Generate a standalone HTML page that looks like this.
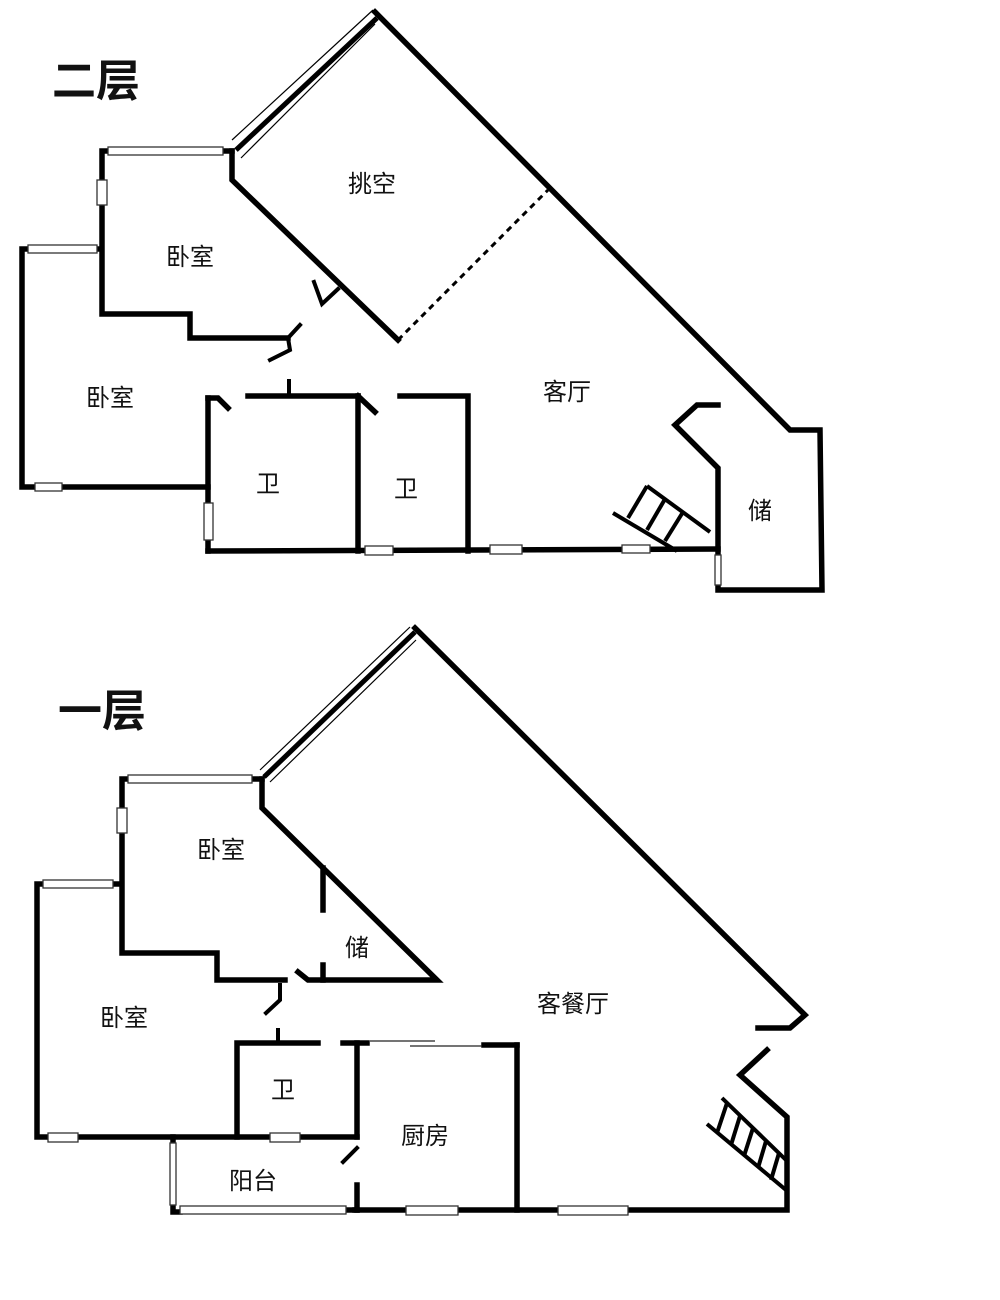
<!DOCTYPE html>
<html><head><meta charset="utf-8"><style>
html,body{margin:0;padding:0;background:#fff;}
svg{display:block;}
text{font-family:"Liberation Sans","Noto Sans CJK SC",sans-serif;fill:#111;}
</style></head><body>
<svg width="1000" height="1300" viewBox="0 0 1000 1300" xmlns="http://www.w3.org/2000/svg">
<g fill="none" stroke="#000" stroke-width="5.5" stroke-linecap="square" stroke-linejoin="miter">
<!-- ===== Upper floor ===== -->
<polyline points="375,12 790,430 820,430 822,590 718,590 718,468 675,425 697,405 718,405"/>
<polyline points="232,151 102,151 102,314 190,314 190,338 288,338"/>
<polyline points="232,151 232,180 398,340"/>
<polyline points="100,249 22,249 22,487 208,487"/>
<polyline points="208,398 218,398 228,408"/>
<line x1="248" y1="396" x2="358" y2="396"/>
<line x1="358" y1="396" x2="375" y2="412"/>
<polyline points="400,396 468,396 468,551"/>
<line x1="208" y1="398" x2="208" y2="551"/>
<line x1="358" y1="396" x2="358" y2="551"/>
<line x1="208" y1="551" x2="718" y2="549"/>
<polyline points="300,325 288,338 290,350 270,360" stroke-width="4"/>
<line x1="289" y1="381" x2="289" y2="394" stroke-width="4"/>
<polyline points="314,282 322,304 338,289" stroke-width="4"/>
<!-- stair -->
<g stroke-width="4" stroke-linecap="butt">
<line x1="613" y1="513" x2="677" y2="551"/>
<line x1="647" y1="486" x2="710" y2="532"/>
<line x1="647" y1="486" x2="628" y2="518"/>
<line x1="665" y1="499" x2="647" y2="530"/>
<line x1="683" y1="512" x2="665" y2="541"/>
</g>
<line x1="398" y1="340" x2="548" y2="190" stroke-width="3" stroke-dasharray="6,5" stroke-linecap="butt"/>

<!-- ===== Lower floor ===== -->
<polyline points="415,628 805,1015 790,1028 758,1028"/>
<polyline points="767,1050 740,1075 787,1117 787,1210 355,1210"/>
<polyline points="262,779 122,779 122,953 217,953 217,980 285,980"/>
<polyline points="262,779 262,808 437,980 308,980 298,972"/>
<line x1="323" y1="868" x2="323" y2="910"/>
<line x1="323" y1="965" x2="323" y2="980"/>
<polyline points="280,985 280,1000 266,1013" stroke-width="4"/>
<line x1="278" y1="1030" x2="278" y2="1043" stroke-width="4"/>
<polyline points="118,884 37,884 37,1137 357,1137"/>
<polyline points="318,1043 237,1043 237,1137"/>
<line x1="343" y1="1043" x2="367" y2="1043"/>
<line x1="484" y1="1045" x2="517" y2="1045"/>
<polyline points="357,1043 357,1137"/>
<line x1="517" y1="1045" x2="517" y2="1210"/>
<polyline points="357,1148 343,1162" stroke-width="4"/>
<line x1="357" y1="1185" x2="357" y2="1210"/>
<polyline points="173,1137 173,1212 180,1212"/>
<line x1="345" y1="1210" x2="357" y2="1210"/>
<g stroke-width="4" stroke-linecap="butt">
<line x1="707" y1="1124" x2="786" y2="1190"/>
<line x1="722" y1="1098" x2="786" y2="1160"/>
<line x1="727" y1="1103" x2="717" y2="1133"/>
<line x1="740" y1="1116" x2="731" y2="1145"/>
<line x1="753" y1="1128" x2="744" y2="1156"/>
<line x1="766" y1="1141" x2="758" y2="1168"/>
<line x1="779" y1="1153" x2="771" y2="1180"/>
</g>
</g>
<g stroke="#222" stroke-width="1.3">
<line x1="370" y1="1041" x2="435" y2="1041"/>
<line x1="410" y1="1046" x2="482" y2="1046"/>
</g>
<!-- windows -->
<g fill="#fff" stroke="#333" stroke-width="1.3">
<rect x="108" y="147" width="115" height="8"/>
<rect x="28" y="245" width="69" height="8"/>
<rect x="97" y="180" width="10" height="25"/>
<rect x="35" y="483" width="27" height="8"/>
<rect x="204" y="503" width="9" height="37"/>
<rect x="365" y="546" width="28" height="9"/>
<rect x="490" y="545" width="32" height="9"/>
<rect x="622" y="545" width="28" height="8"/>
<rect x="715" y="555" width="6" height="30"/>
<rect x="128" y="775" width="124" height="8"/>
<rect x="117" y="808" width="10" height="25"/>
<rect x="43" y="880" width="70" height="8"/>
<rect x="48" y="1133" width="30" height="9"/>
<rect x="270" y="1133" width="30" height="9"/>
<rect x="170" y="1143" width="6" height="62"/>
<rect x="180" y="1206" width="166" height="8"/>
<rect x="406" y="1206" width="52" height="9"/>
<rect x="558" y="1206" width="70" height="9"/>
</g>
<!-- diagonal windows -->
<g stroke="#000" fill="none">
<line x1="232" y1="140" x2="373" y2="10" stroke-width="1.2"/>
<line x1="236" y1="150" x2="377" y2="18" stroke-width="5"/>
<line x1="241" y1="158" x2="375" y2="24" stroke-width="1.2"/>
<line x1="260" y1="770" x2="410" y2="627" stroke-width="1.2"/>
<line x1="264" y1="777" x2="415" y2="632" stroke-width="5"/>
<line x1="270" y1="782" x2="416" y2="640" stroke-width="1.2"/>
</g>
<!-- labels -->
<g font-size="24" text-anchor="middle">
<text x="372" y="192">挑空</text>
<text x="190" y="265">卧室</text>
<text x="110" y="406">卧室</text>
<text x="268" y="492">卫</text>
<text x="406" y="497">卫</text>
<text x="567" y="400">客厅</text>
<text x="760" y="519">储</text>
<text x="221" y="858">卧室</text>
<text x="357" y="956">储</text>
<text x="124" y="1026">卧室</text>
<text x="283" y="1098">卫</text>
<text x="425" y="1144">厨房</text>
<text x="253" y="1189">阳台</text>
<text x="573" y="1012">客餐厅</text>
</g>
<g font-size="44" font-weight="bold">
<text x="52" y="96" textLength="88" lengthAdjust="spacingAndGlyphs">二层</text>
<text x="58" y="726" textLength="88" lengthAdjust="spacingAndGlyphs">一层</text>
</g>
</svg>
</body></html>
